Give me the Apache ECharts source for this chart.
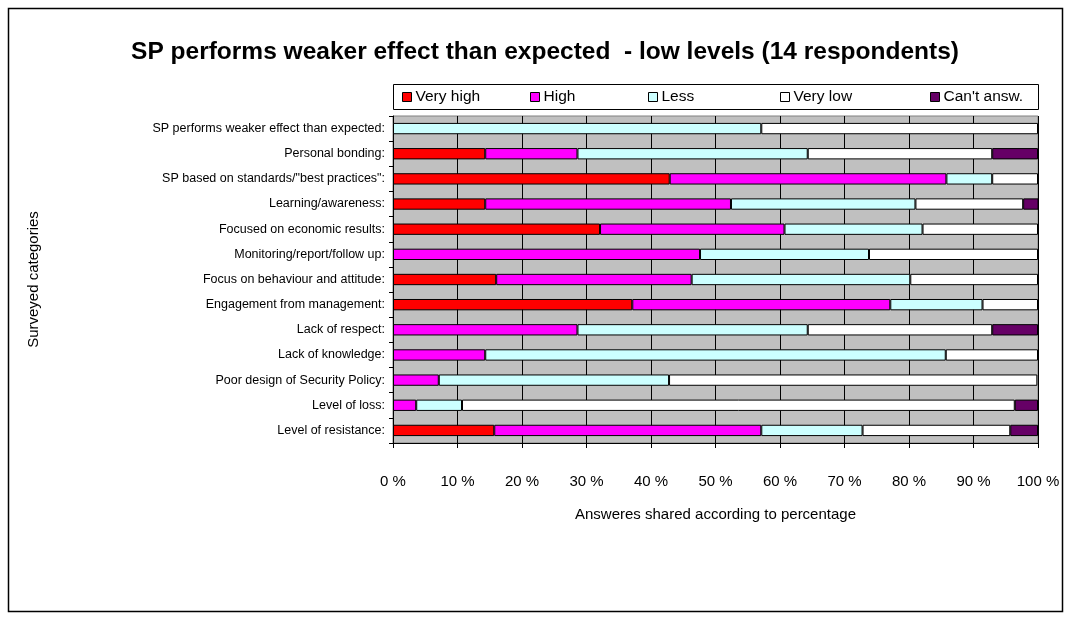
<!DOCTYPE html>
<html>
<head>
<meta charset="utf-8">
<title>SP performs weaker effect than expected - low levels</title>
<script src="https://cdn.jsdelivr.net/npm/echarts@6/dist/echarts.min.js"></script>
<style>
  html, body { margin: 0; padding: 0; background: #ffffff; }
  #chart { width: 1071px; height: 624px; }
</style>
</head>
<body>
<div id="chart"></div>
<script>
// Survey categories, top to bottom
const categories = [
  'SP performs weaker effect than expected:',
  'Personal bonding:',
  'SP based on standards/"best practices":',
  'Learning/awareness:',
  'Focused on economic results:',
  'Monitoring/report/follow up:',
  'Focus on behaviour and attitude:',
  'Engagement from management:',
  'Lack of respect:',
  'Lack of knowledge:',
  'Poor design of Security Policy:',
  'Level of loss:',
  'Level of resistance:'
];

// Share of answers (%) per category
const veryHigh = [0, 14.3, 42.9, 14.3, 32.1, 0, 16.0, 37.1, 0, 0, 0, 0, 15.7];
const high     = [0, 14.3, 42.9, 38.1, 28.6, 47.6, 30.3, 40.0, 28.6, 14.3, 7.1, 3.6, 41.4];
const less     = [57.1, 35.7, 7.1, 28.6, 21.4, 26.2, 33.9, 14.3, 35.7, 71.4, 35.7, 7.1, 15.7];
const veryLow  = [42.9, 28.6, 7.1, 16.7, 17.9, 26.2, 19.8, 8.6, 28.6, 14.3, 57.1, 85.7, 22.9];
const cantAnsw = [0, 7.1, 0, 2.4, 0, 0, 0, 0, 7.1, 0, 0, 3.6, 4.3];

const seriesNames = ['Very high', 'High', 'Less', 'Very low', "Can't answ."];
const seriesColors = ['#FF0000', '#FF00FF', '#CCFFFF', '#FFFFFF', '#660066'];
const seriesValues = [veryHigh, high, less, veryLow, cantAnsw];

// x-axis tick values
const xTicks = [0, 10, 20, 30, 40, 50, 60, 70, 80, 90, 100];

const FONT = '"Liberation Sans", Arial, sans-serif';

const chart = echarts.init(document.getElementById('chart'), null, { renderer: 'canvas' });

// empty segments are skipped so no zero-width outline is drawn
const series = seriesNames.map((name, i) => ({
  name: name,
  type: 'bar',
  stack: 'total',
  barWidth: '45%',
  data: seriesValues[i].map(v => (v > 0 ? v : '-')),
  itemStyle: {
    color: seriesColors[i],
    borderColor: '#000000',
    borderWidth: 1
  },
  emphasis: { disabled: true }
}));

// one legend per entry so each sits at its own spot in the box
const legendLeft = [402, 530, 648, 780, 930];
const legends = seriesNames.map((name, i) => ({
  data: [name],
  left: legendLeft[i],
  top: 89,
  icon: 'rect',
  itemWidth: 9,
  itemHeight: 9,
  itemGap: 0,
  padding: 0,
  selectedMode: false,
  itemStyle: { borderColor: '#000000', borderWidth: 1 },
  textStyle: { fontFamily: FONT, fontSize: 15.5, color: '#000000', padding: [0, 0, 0, -1] }
}));

const option = {
  animation: false,
  backgroundColor: '#ffffff',
  title: {
    text: 'SP performs weaker effect than expected  - low levels (14 respondents)',
    left: 540,
    textAlign: 'center',
    top: 35,
    textStyle: { fontFamily: FONT, fontSize: 24.5, fontWeight: 'bold', color: '#000000' }
  },
  graphic: [
    {
      type: 'rect',
      shape: { x: 8.5, y: 8.5, width: 1054, height: 603 },
      style: { fill: 'none', stroke: '#000000', lineWidth: 1.5 },
      silent: true, z: -1
    },
    {
      type: 'rect',
      shape: { x: 393.5, y: 84.5, width: 645, height: 25 },
      style: { fill: '#ffffff', stroke: '#000000', lineWidth: 1 },
      silent: true, z: -1
    }
  ],
  legend: legends,
  grid: {
    left: 393,
    right: 33,
    top: 116,
    bottom: 181,
    show: true,
    backgroundColor: '#C0C0C0',
    borderColor: '#808080',
    borderWidth: 1
  },
  xAxis: {
    type: 'value',
    min: xTicks[0],
    max: xTicks[xTicks.length - 1],
    interval: 10,
    name: 'Answeres shared according to percentage',
    nameLocation: 'middle',
    nameGap: 64,
    nameTextStyle: { fontFamily: FONT, fontSize: 15, color: '#000000' },
    axisLine: { show: true, lineStyle: { color: '#000000', width: 1 } },
    axisTick: { show: true, length: 5, lineStyle: { color: '#000000' } },
    axisLabel: {
      fontFamily: FONT, fontSize: 15, color: '#000000', margin: 31,
      formatter: v => v + ' %'
    },
    splitLine: { show: true, lineStyle: { color: '#000000', width: 1 } }
  },
  yAxis: {
    type: 'category',
    data: categories,
    inverse: true,
    name: 'Surveyed categories',
    nameLocation: 'middle',
    nameGap: 352,
    nameRotate: 90,
    nameTextStyle: { fontFamily: FONT, fontSize: 15, color: '#000000' },
    axisLine: { show: true, lineStyle: { color: '#000000', width: 1 } },
    axisTick: { show: true, length: 4, alignWithLabel: false, lineStyle: { color: '#000000' } },
    axisLabel: { fontFamily: FONT, fontSize: 12.5, color: '#000000', margin: 8 },
    splitLine: { show: false }
  },
  series: series
};

chart.setOption(option);
</script>
</body>
</html>
